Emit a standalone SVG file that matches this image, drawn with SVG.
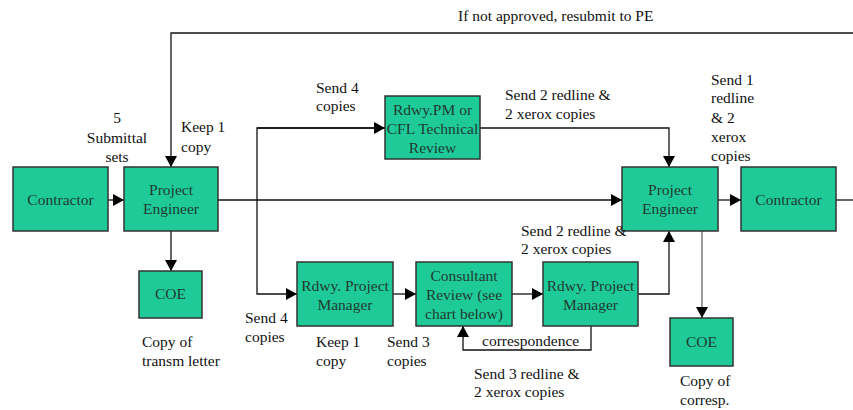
<svg xmlns="http://www.w3.org/2000/svg" width="853" height="410" viewBox="0 0 853 410">
<style>
.box{fill:#1ECB98;stroke:#333;stroke-width:1.5}
.bt{font-size:15.5px;fill:#203a30;text-anchor:middle}
.t{font-size:15.5px;fill:#111}
.c{fill:none;stroke:#111;stroke-width:1.3}
</style>
<defs>
<marker id="ah" markerUnits="userSpaceOnUse" markerWidth="12" markerHeight="12" refX="11" refY="6" orient="auto">
<path d="M0,0 L11,6 L0,12 z" fill="#000"/>
</marker>
</defs>
<rect width="853" height="410" fill="#fff"/>
<g id="connectors">
<polyline class="c" points="853,33 171,33 171,167" marker-end="url(#ah)"/>
<line class="c" x1="108" y1="200" x2="124" y2="200" marker-end="url(#ah)"/>
<line class="c" x1="171" y1="231" x2="171" y2="271" marker-end="url(#ah)"/>
<line class="c" x1="218" y1="200" x2="622" y2="200" marker-end="url(#ah)"/>
<polyline class="c" points="385,128 257,128 257,294 297,294" marker-end="url(#ah)"/>
<line class="c" x1="257" y1="128" x2="385" y2="128" marker-end="url(#ah)"/>
<polyline class="c" points="480,128 669,128 669,167" marker-end="url(#ah)"/>
<line class="c" x1="393" y1="294" x2="416" y2="294" marker-end="url(#ah)"/>
<line class="c" x1="512" y1="294" x2="543" y2="294" marker-end="url(#ah)"/>
<polyline class="c" points="638,294 669,294 669,231" marker-end="url(#ah)"/>
<polyline class="c" points="591,326 591,350 463,350 463,326" marker-end="url(#ah)"/>
<line class="c" x1="718" y1="200" x2="741" y2="200" marker-end="url(#ah)"/>
<line class="c" x1="836" y1="200" x2="853" y2="200"/>
<line class="c" x1="702" y1="231" x2="702" y2="318" marker-end="url(#ah)" style="stroke:#666"/>
</g>
<g font-family="'Liberation Serif', 'Times New Roman', Tinos, 'DejaVu Serif', serif">
<g id="contractor1"><rect class="box" x="13" y="167" width="95" height="64"/><text class="bt" x="60.5" y="205">Contractor</text></g>
<g id="pe1"><rect class="box" x="124" y="167" width="94" height="64"/><text class="bt" x="171" y="195">Project</text><text class="bt" x="171" y="214">Engineer</text></g>
<g id="coe1"><rect class="box" x="139" y="271" width="63" height="47"/><text class="bt" x="170.5" y="299">COE</text></g>
<g id="cfl"><rect class="box" x="385" y="96" width="95" height="63"/><text class="bt" x="432.5" y="115">Rdwy.PM or</text><text class="bt" x="432.5" y="134">CFL Technical</text><text class="bt" x="432.5" y="153">Review</text></g>
<g id="rpm1"><rect class="box" x="297" y="262" width="96" height="64"/><text class="bt" x="345" y="291">Rdwy. Project</text><text class="bt" x="345" y="310">Manager</text></g>
<g id="consultant"><rect class="box" x="416" y="262" width="96" height="64"/><text class="bt" x="464" y="281">Consultant</text><text class="bt" x="464" y="300">Review (see</text><text class="bt" x="464" y="319">chart below)</text></g>
<g id="rpm2"><rect class="box" x="543" y="262" width="95" height="64"/><text class="bt" x="590.5" y="291">Rdwy. Project</text><text class="bt" x="590.5" y="310">Manager</text></g>
<g id="pe2"><rect class="box" x="622" y="167" width="96" height="64"/><text class="bt" x="670" y="195">Project</text><text class="bt" x="670" y="214">Engineer</text></g>
<g id="contractor2"><rect class="box" x="741" y="167" width="95" height="64"/><text class="bt" x="788.5" y="205">Contractor</text></g>
<g id="coe2"><rect class="box" x="670" y="318" width="63" height="48"/><text class="bt" x="701.5" y="347">COE</text></g>
<g id="labels">
<text class="t" x="458" y="21">If not approved, resubmit to PE</text>
<text class="t" x="117" y="123" text-anchor="middle">5</text>
<text class="t" x="117" y="143" text-anchor="middle">Submittal</text>
<text class="t" x="117" y="162" text-anchor="middle">sets</text>
<text class="t" x="181" y="132">Keep 1</text>
<text class="t" x="181" y="152">copy</text>
<text class="t" x="316" y="93">Send 4</text>
<text class="t" x="316" y="111">copies</text>
<text class="t" x="505" y="100">Send 2 redline &amp;</text>
<text class="t" x="505" y="119">2 xerox copies</text>
<text class="t" x="711" y="85">Send 1</text>
<text class="t" x="711" y="103">redline</text>
<text class="t" x="711" y="123">&amp; 2</text>
<text class="t" x="711" y="142">xerox</text>
<text class="t" x="711" y="161">copies</text>
<text class="t" x="142" y="347">Copy of</text>
<text class="t" x="142" y="366">transm letter</text>
<text class="t" x="245" y="323">Send 4</text>
<text class="t" x="245" y="342">copies</text>
<text class="t" x="316" y="347">Keep 1</text>
<text class="t" x="316" y="366">copy</text>
<text class="t" x="387" y="347">Send 3</text>
<text class="t" x="387" y="366">copies</text>
<text class="t" x="521" y="236">Send 2 redline &amp;</text>
<text class="t" x="521" y="254">2 xerox copies</text>
<text class="t" x="482" y="346">correspondence</text>
<text class="t" x="474" y="379">Send 3 redline &amp;</text>
<text class="t" x="474" y="397">2 xerox copies</text>
<text class="t" x="680" y="386">Copy of</text>
<text class="t" x="680" y="405">corresp.</text>
</g>
</g>
</svg>
